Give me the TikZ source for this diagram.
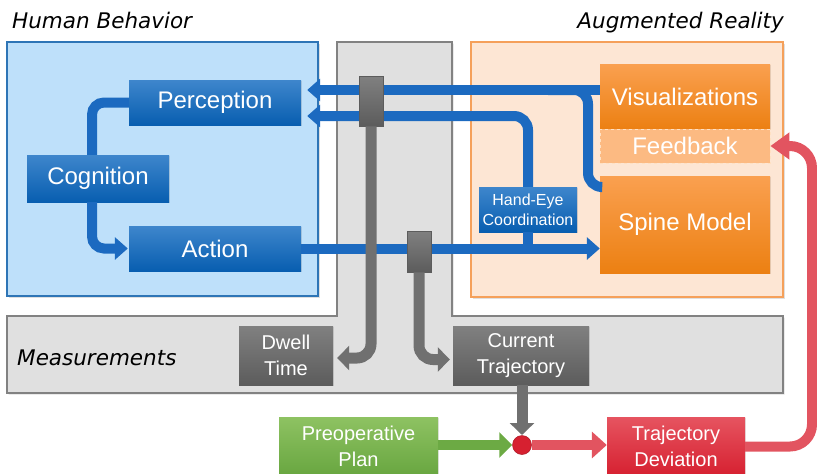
\documentclass[tikz,border=0pt]{standalone}
\usepackage{fontspec}
\setmainfont{Liberation Sans}
\newfontfamily\titlefam{DejaVu Sans}
\usetikzlibrary{arrows.meta,shadows}
\definecolor{hbfill}{RGB}{190,224,250}
\definecolor{hbline}{RGB}{46,117,182}
\definecolor{msfill}{RGB}{224,224,224}
\definecolor{msline}{RGB}{130,130,130}
\definecolor{arfill}{RGB}{253,230,212}
\definecolor{arline}{RGB}{245,160,90}
\definecolor{bluetop}{RGB}{62,134,204}
\definecolor{bluebot}{RGB}{8,94,176}
\definecolor{bluepipe}{RGB}{28,106,192}
\definecolor{orgtop}{RGB}{250,160,80}
\definecolor{orgbot}{RGB}{236,128,18}
\definecolor{fbfill}{RGB}{252,186,130}
\definecolor{fbline}{RGB}{255,225,195}
\definecolor{graytop}{RGB}{128,128,128}
\definecolor{graybot}{RGB}{92,92,92}
\definecolor{graypipe}{RGB}{112,112,112}
\definecolor{grntop}{RGB}{142,194,98}
\definecolor{grnbot}{RGB}{104,166,64}
\definecolor{grnpipe}{RGB}{108,170,68}
\definecolor{redtop}{RGB}{230,84,96}
\definecolor{redbot}{RGB}{214,32,48}
\definecolor{redpipe}{RGB}{226,84,96}
\tikzset{
  region/.style={line width=1.2pt, drop shadow={shadow xshift=1.5pt, shadow yshift=-1.5pt, opacity=0.25}},
  titletext/.style={font=\titlefam\itshape\fontsize{21.5}{24}\selectfont, inner sep=0pt},
  box/.style={rectangle, inner sep=0pt, align=center, text=white, font=\fontsize{24}{28}\selectfont,
    drop shadow={shadow xshift=1pt, shadow yshift=-1pt, opacity=0.2}},
  midtext/.style={font=\fontsize{20}{26}\selectfont},
  bluebox/.style={box, top color=bluetop, bottom color=bluebot},
  orgbox/.style={box, top color=orgtop, bottom color=orgbot},
  graybox/.style={box, midtext, top color=graytop, bottom color=graybot},
  grnbox/.style={box, midtext, top color=grntop, bottom color=grnbot},
  redbox/.style={box, midtext, top color=redtop, bottom color=redbot},
  tapbox/.style={rectangle, inner sep=0pt, top color=graytop, bottom color=graybot, draw=graybot, line width=0.5pt},
  bpipe/.style={draw=bluepipe, line width=10pt},
  gpipe/.style={draw=graypipe, line width=11pt},
  btip/.style={-{Triangle[length=13pt,width=22pt]}},
  gtip/.style={-{Triangle[length=12pt,width=24pt]}},
}
\begin{document}
\begin{tikzpicture}[x=1pt,y=-1pt]
\useasboundingbox (0,0) rectangle (817,474);
% titles
\node[titletext, anchor=base west] (hbt) at (12,28) {Human Behavior};
\node[titletext, anchor=base east] (art) at (784,28) {Augmented Reality};
% regions
\draw[region, fill=hbfill, draw=hbline] (7,42) rectangle (318,296);
\draw[region, fill=msfill, draw=msline] (7,316) -- (337,316) -- (337,42) -- (452,42) -- (452,316)
  -- (783,316) -- (783,393) -- (7,393) -- cycle;
\draw[region, fill=arfill, draw=arline] (471,42) rectangle (783,297);
\node[titletext, anchor=base west] (mst) at (17,365) {Measurements};
% nodes
\node[bluebox, minimum width=172pt, minimum height=45pt] (perc) at (215,102.5) {Perception};
\node[bluebox, minimum width=142pt, minimum height=47pt] (cog) at (98,178.5) {Cognition};
\node[bluebox, minimum width=172pt, minimum height=45pt] (act) at (215,248.5) {Action};
\node[orgbox, minimum width=170pt, minimum height=65pt] (viz) at (685,96.5) {Visualizations};
\node[rectangle, inner sep=0pt, fill=fbfill, draw=fbline, dashed, line width=0.8pt,
  minimum width=170pt, minimum height=34pt, text=white, font=\fontsize{24}{28}\selectfont] (fb) at (685,146) {Feedback};
\node[orgbox, minimum width=170pt, minimum height=97pt] (spine) at (685,224.5) {Spine Model};
\node[bluebox, font=\fontsize{16}{20}\selectfont, minimum width=98pt, minimum height=45pt] (he) at (528,209.5) {Hand-Eye\\Coordination};
\node[graybox, minimum width=94pt, minimum height=59pt] (dwell) at (286,355.5) {Dwell\\Time};
\node[graybox, minimum width=136pt, minimum height=59pt] (cur) at (521,355.5) {Current\\Trajectory};
\node[grnbox, minimum width=159pt, minimum height=59pt] (pre) at (358.5,446.5) {Preoperative\\Plan};
\node[redbox, minimum width=138pt, minimum height=59pt] (td) at (676,446.5) {Trajectory\\Deviation};
% helper coordinates
\coordinate (r1) at (0,90);
\coordinate (r2) at (0,116);
\coordinate (r3) at (0,187);
\coordinate (cbr) at (588,90);
\coordinate (rc) at (812,300);
% blue connectors
\draw[bpipe, rounded corners=12pt] ([xshift=-6pt]cog.north) |- (perc.west);
\draw[bpipe, btip, rounded corners=12pt, shorten >=1pt] ([xshift=-6pt]cog.south) |- (act.west);
\draw[bpipe, rounded corners=14pt] (spine.west |- r3) -| (cbr) -- ++(-40,0);
\draw[bpipe, btip, shorten >=6pt] (viz.west |- r1) -- (perc.east |- r1);
\draw[bpipe, btip, rounded corners=14pt, shorten >=6pt] (he.north) |- (perc.east |- r2);
\draw[bpipe, btip] (act.east) -- (spine.west |- act.east);
\draw[bpipe] (he.south) -- (he.south |- act.east);
% taps
\node[tapbox, minimum width=24pt, minimum height=50pt] (tap1) at (371,101) {};
\node[tapbox, minimum width=24pt, minimum height=41pt] (tap2) at (419,251.5) {};
% gray connectors
\draw[gpipe, gtip, rounded corners=14pt, shorten >=4pt] (tap1.south) |- ([yshift=-2.5pt]dwell.east);
\draw[gpipe, gtip, rounded corners=14pt, shorten >=3pt] (tap2.south) |- ([yshift=-4pt]cur.west);
\draw[gpipe, gtip] (cur.south -| 522,0) -- (522,435);
% bottom flow
\node[circle, inner sep=0pt, minimum size=19pt, fill=redbot, draw=redbot!80!black, line width=0.5pt] (dot) at (522,445) {};
\draw[draw=grnpipe, line width=10pt, -{Triangle[length=13pt,width=25pt]}] (pre.east |- dot) -- (dot.west);
\draw[draw=redpipe, line width=10pt, -{Triangle[length=15pt,width=26pt]}] (dot.east) -- (td.west |- dot);
\draw[draw=redpipe, line width=10pt, rounded corners=22pt, -{Triangle[length=19pt,width=26pt]}]
  (td.east) -| (rc) |- (fb.east);
\end{tikzpicture}
\end{document}
